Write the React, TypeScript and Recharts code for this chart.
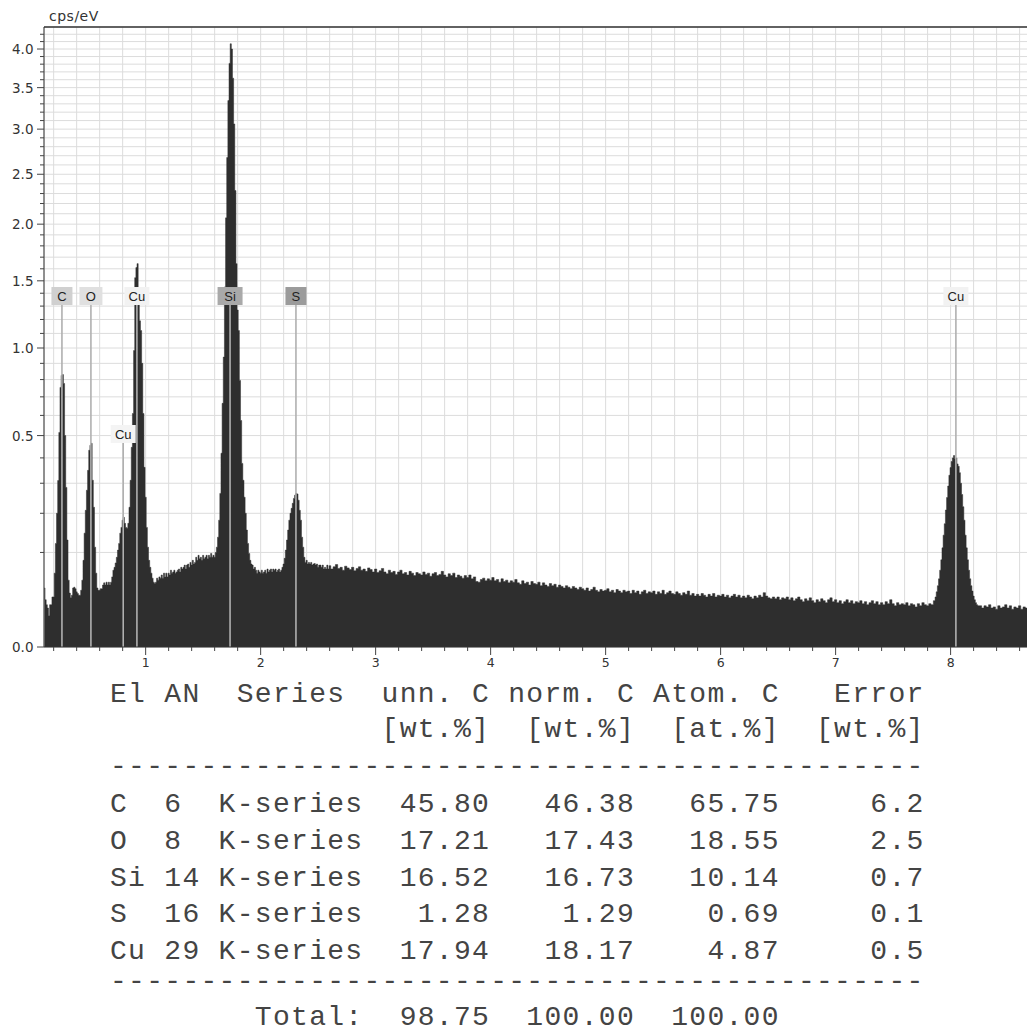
import {
  ComposedChart, Area, XAxis, YAxis, CartesianGrid, ReferenceLine, ReferenceDot,
} from "recharts";

// EDX spectrum, cps/eV.
// 0.12 - 2.59 keV, 10 eV channels (C, O, Cu L, Si, S peaks)
const LOW_KEV_COUNTS = [
  0.039, 0.025, 0.020, 0.017, 0.011, 0.020, 0.020, 0.028,
  0.028, 0.061, 0.12, 0.20, 0.31, 0.515, 0.754, 0.825, 0.83, 0.777, 0.50, 0.285,
  0.128, 0.050, 0.0325, 0.027, 0.030, 0.039, 0.040, 0.038, 0.034, 0.032,
  0.030, 0.030, 0.036, 0.050, 0.084, 0.145, 0.209, 0.275, 0.349, 0.433,
  0.455, 0.464, 0.311, 0.2185, 0.1115, 0.061, 0.039, 0.036, 0.036, 0.038,
  0.038, 0.043, 0.046, 0.043, 0.047, 0.043, 0.047, 0.043, 0.047, 0.055,
  0.066, 0.071, 0.079, 0.090, 0.105, 0.12, 0.145, 0.16, 0.18, 0.188,
  0.171, 0.16, 0.158, 0.171, 0.2185, 0.311, 0.446, 0.61, 0.983, 1.526,
  1.61, 1.644, 1.42, 1.19, 1.12, 0.90, 0.61, 0.361, 0.251, 0.16,
  0.1115, 0.084, 0.071, 0.061, 0.053, 0.047, 0.045, 0.047, 0.053, 0.050,
  0.055, 0.053, 0.058, 0.053, 0.061, 0.055, 0.061, 0.055, 0.061, 0.058,
  0.066, 0.061, 0.063, 0.066, 0.061, 0.063, 0.066, 0.068, 0.063, 0.071,
  0.068, 0.071, 0.075, 0.068, 0.075, 0.077, 0.071, 0.080, 0.075, 0.084,
  0.077, 0.080, 0.090, 0.084, 0.094, 0.087, 0.090, 0.084, 0.094, 0.087,
  0.090, 0.094, 0.087, 0.094, 0.090, 0.098, 0.090, 0.094, 0.090, 0.10,
  0.1115, 0.135, 0.18, 0.264, 0.42, 0.664, 0.94, 1.45, 2.06, 2.68,
  3.34, 3.81, 4.07, 4.0, 3.62, 3.06, 2.33, 1.644, 1.27, 1.12,
  0.795, 0.574, 0.377, 0.311, 0.251, 0.20, 0.153, 0.12, 0.098, 0.084,
  0.077, 0.075, 0.068, 0.071, 0.066, 0.061, 0.066, 0.063, 0.061, 0.066,
  0.061, 0.063, 0.066, 0.061, 0.068, 0.063, 0.066, 0.068, 0.063, 0.068,
  0.066, 0.068, 0.063, 0.066, 0.068, 0.063, 0.066, 0.071, 0.077, 0.088,
  0.105, 0.128, 0.153, 0.18, 0.20, 0.215, 0.231, 0.247, 0.258, 0.264,
  0.262, 0.241, 0.209, 0.18, 0.135, 0.1115, 0.090, 0.080, 0.084, 0.077,
  0.080, 0.077, 0.080, 0.075, 0.077, 0.078, 0.075, 0.077, 0.071, 0.075,
  0.075, 0.071, 0.075, 0.068, 0.071, 0.068, 0.075, 0.068,
];

// 2.60 - 7.84 keV, 20 eV steps (bremsstrahlung background)
const BACKGROUND_COUNTS = [
  0.074, 0.068, 0.072, 0.076, 0.069, 0.071, 0.066, 0.073, 0.070, 0.067,
  0.071, 0.065, 0.069, 0.072, 0.066, 0.068, 0.064, 0.070, 0.067, 0.063,
  0.068, 0.062, 0.065, 0.069, 0.063, 0.060, 0.066, 0.062, 0.064, 0.059,
  0.063, 0.066, 0.060, 0.062, 0.058, 0.064, 0.061, 0.057, 0.062, 0.060,
  0.058, 0.063, 0.059, 0.061, 0.056, 0.060, 0.062, 0.057, 0.059, 0.064,
  0.058, 0.055, 0.060, 0.057, 0.061, 0.054, 0.058, 0.056, 0.053, 0.057,
  0.054, 0.058, 0.052, 0.055, 0.048, 0.047, 0.051, 0.053, 0.049, 0.052,
  0.050, 0.054, 0.049, 0.051, 0.047, 0.052, 0.048, 0.050, 0.046, 0.049,
  0.047, 0.051, 0.046, 0.044, 0.049, 0.045, 0.047, 0.043, 0.048, 0.045,
  0.044, 0.047, 0.042, 0.046, 0.043, 0.041, 0.045, 0.042, 0.044, 0.040,
  0.043, 0.041, 0.039, 0.042, 0.040, 0.038, 0.041, 0.039, 0.037, 0.040,
  0.038, 0.036, 0.039, 0.035, 0.037, 0.040, 0.036, 0.034, 0.037, 0.035,
  0.036, 0.038, 0.034, 0.036, 0.033, 0.037, 0.035, 0.033, 0.036, 0.034,
  0.035, 0.032, 0.036, 0.033, 0.035, 0.031, 0.034, 0.036, 0.032, 0.034,
  0.033, 0.035, 0.031, 0.034, 0.032, 0.036, 0.031, 0.033, 0.035, 0.032,
  0.031, 0.034, 0.032, 0.030, 0.033, 0.031, 0.035, 0.030, 0.032, 0.029,
  0.031, 0.029, 0.032, 0.030, 0.028, 0.031, 0.029, 0.032, 0.028, 0.030,
  0.029, 0.031, 0.028, 0.030, 0.027, 0.029, 0.031, 0.028, 0.030, 0.027,
  0.029, 0.027, 0.030, 0.028, 0.026, 0.029, 0.027, 0.030, 0.028, 0.033,
  0.029, 0.027, 0.026, 0.028, 0.026, 0.028, 0.025, 0.027, 0.026, 0.028,
  0.025, 0.027, 0.024, 0.026, 0.028, 0.025, 0.023, 0.026, 0.024, 0.027,
  0.024, 0.022, 0.025, 0.023, 0.026, 0.024, 0.022, 0.025, 0.027, 0.023,
  0.025, 0.022, 0.024, 0.021, 0.023, 0.025, 0.022, 0.024, 0.021, 0.023,
  0.022, 0.024, 0.021, 0.023, 0.020, 0.022, 0.024, 0.021, 0.023, 0.020,
  0.022, 0.020, 0.023, 0.021, 0.025, 0.021, 0.019, 0.022, 0.020, 0.021,
  0.020, 0.022, 0.019, 0.021, 0.020, 0.018, 0.021, 0.019, 0.022, 0.020,
  0.019, 0.021, 0.020,
];

// 7.86 - 8.24 keV, 10 eV channels (Cu K alpha)
const CU_K_COUNTS = [
  0.024, 0.028, 0.034, 0.042, 0.052, 0.066, 0.085, 0.11, 0.14, 0.17,
  0.21, 0.25, 0.29, 0.33, 0.36, 0.385, 0.40, 0.41, 0.395, 0.40,
  0.375, 0.365, 0.34, 0.30, 0.26, 0.22, 0.18, 0.14, 0.11, 0.085,
  0.066, 0.052, 0.042, 0.035, 0.029, 0.025, 0.022, 0.020, 0.019,
];

// 8.26 - 8.76 keV, 20 eV steps
const TAIL_COUNTS = [
  0.019, 0.017, 0.019, 0.018, 0.020, 0.017, 0.018, 0.016, 0.019, 0.017,
  0.018, 0.020, 0.017, 0.019, 0.016, 0.018, 0.017, 0.019, 0.016, 0.018,
  0.017, 0.019, 0.016, 0.018, 0.017, 0.018,
];

const SEGMENTS = [
  { start: 0.12, step: 0.01, counts: LOW_KEV_COUNTS },
  { start: 2.6, step: 0.02, counts: BACKGROUND_COUNTS },
  { start: 7.86, step: 0.01, counts: CU_K_COUNTS },
  { start: 8.26, step: 0.02, counts: TAIL_COUNTS },
];

// element markers: line energy, tag height (cps/eV), tag box colour
const PEAK_TAGS = [
  { el: "C", keV: 0.272, at: 1.378, w: 21, fill: "#d0d0d0" },
  { el: "O", keV: 0.524, at: 1.378, w: 23, fill: "#e0e0e0" },
  { el: "Cu", keV: 0.924, at: 1.378, w: 25, fill: "#f2f2f2" },
  { el: "Si", keV: 1.734, at: 1.378, w: 25, fill: "#a9a9a9" },
  { el: "S", keV: 2.307, at: 1.378, w: 21, fill: "#9b9b9b" },
  { el: "Cu", keV: 8.046, at: 1.378, w: 25, fill: "#f2f2f2" },
  { el: "Cu", keV: 0.805, at: 0.5075, w: 25, fill: "#f4f4f4" },
];

const X_MAJOR = [1, 2, 3, 4, 5, 6, 7, 8];
const Y_MAJOR = [0, 0.5, 1.0, 1.5, 2.0, 2.5, 3.0, 3.5, 4.0];

// quantification table
const ELEMENTS = ["C", "O", "Si", "S", "Cu"];
const ATOMIC_NO = [6, 8, 14, 16, 29];
const UNN_C = ["45.80", "17.21", "16.52", "1.28", "17.94"];
const NORM_C = ["46.38", "17.43", "16.73", "1.29", "18.17"];
const ATOM_C = ["65.75", "18.55", "10.14", "0.69", "4.87"];
const ERROR = ["6.2", "2.5", "0.7", "0.1", "0.5"];
const TOTALS = ["98.75", "100.00", "100.00"];

const spectrum = SEGMENTS.flatMap((s) =>
  s.counts.map((c, i) => ({ keV: +(s.start + i * s.step).toFixed(3), cps: c }))
);

const xTicks = Array.from({ length: 43 }, (_, i) => +(0.2 * (i + 1)).toFixed(1));
const yTicks = Array.from({ length: 43 }, (_, i) => +(0.1 * i).toFixed(1));

const AXIS_FONT = "'DejaVu Sans', Verdana, sans-serif";

function XTick(props: any) {
  const { x, y, payload } = props;
  const v = payload.value;
  const major = X_MAJOR.some((m) => Math.abs(m - v) < 1e-6);
  return (
    <g>
      <line x1={x} x2={x} y1={y} y2={y + (major ? 8 : 4)} stroke="#444" />
      {major && (
        <text x={x} y={y + 20} textAnchor="middle" fontSize={12.5} fontFamily={AXIS_FONT} fill="#333">
          {Math.round(v)}
        </text>
      )}
    </g>
  );
}

function YTick(props: any) {
  const { x, y, payload } = props;
  const v = payload.value;
  const major = Y_MAJOR.some((m) => Math.abs(m - v) < 1e-6);
  return (
    <g>
      <line x1={x - (major ? 7 : 4)} x2={x} y1={y} y2={y} stroke="#444" />
      {major && (
        <text x={x - 10.5} y={y + 5} textAnchor="end" fontSize={13.5} fontFamily={AXIS_FONT} fill="#333">
          {v.toFixed(1)}
        </text>
      )}
    </g>
  );
}

function PeakTag(props: any) {
  const { cx, cy, label, w, fill } = props;
  return (
    <g>
      <rect x={cx - w / 2} y={cy - 9} width={w} height={18} fill={fill} />
      <text x={cx} y={cy + 5} textAnchor="middle" fontSize={13} fontFamily="'Liberation Sans', Arial, sans-serif" fill="#222">
        {label}
      </text>
    </g>
  );
}

const MONO = "'Courier New', 'Liberation Mono', monospace";

function ResultTable() {
  const rows = ELEMENTS.map(
    (el, i) =>
      el.padEnd(3) + String(ATOMIC_NO[i]).padEnd(3) + "K-series" +
      UNN_C[i].padStart(7) + NORM_C[i].padStart(8) + ATOM_C[i].padStart(8) + ERROR[i].padStart(8)
  );
  const dashes = "-".repeat(45);
  const lines: [number, string][] = [
    [702, "El AN  Series  unn. C norm. C Atom. C   Error"],
    [737, "               [wt.%]  [wt.%]  [at.%]  [wt.%]"],
    [774, dashes],
    ...rows.map((r, i) => [812 + i * 36.8, r] as [number, string]),
    [989, dashes],
    [1025, "        Total:" + TOTALS[0].padStart(7) + TOTALS[1].padStart(8) + TOTALS[2].padStart(8)],
  ];
  return (
    <svg width={1027} height={1032} style={{ position: "absolute", left: 0, top: 0, pointerEvents: "none" }}>
      {lines.map(([y, t], i) => (
        <text key={i} x={110} y={y} xmlSpace="preserve" style={{ whiteSpace: "pre" }}
          fontFamily={MONO} fontSize={28} letterSpacing={1.3} fill="#444">
          {t}
        </text>
      ))}
    </svg>
  );
}

export default function App() {
  return (
    <div style={{ position: "absolute", left: 0, top: 0, width: 1027, height: 1032, overflow: "hidden", background: "#fff" }}>
      <div style={{ position: "absolute", left: 49, top: 8, fontFamily: AXIS_FONT, fontSize: 14, letterSpacing: 0.5, color: "#333" }}>
        cps/eV
      </div>
      <ComposedChart width={1038} height={672} data={spectrum} margin={{ top: 27, right: 0, bottom: 0, left: 0 }}>
        <CartesianGrid stroke="#dcdcdc" />
        <XAxis
          dataKey="keV" type="number" domain={[0.116, 8.76]} allowDataOverflow
          ticks={xTicks} interval={0} tickSize={0} tickMargin={0} height={25}
          tick={<XTick />} axisLine={{ stroke: "#333" }}
        />
        <YAxis
          type="number" scale="sqrt" domain={[0, 4.3]} allowDataOverflow
          ticks={yTicks} interval={0} tickSize={0} tickMargin={0} width={44}
          tick={<YTick />} axisLine={{ stroke: "#333" }}
        />
        <Area
          dataKey="cps" type="step" fill="#2e2e2e" fillOpacity={1}
          stroke="#2e2e2e" strokeWidth={0.5} isAnimationActive={false} dot={false} activeDot={false}
        />
        <ReferenceLine y={4.3} stroke="#333" strokeWidth={1.5} />
        {PEAK_TAGS.map((p, i) => (
          <ReferenceLine key={"l" + i} segment={[{ x: p.keV, y: 0 }, { x: p.keV, y: p.at }]} stroke="#b0b0b0" strokeWidth={1.6} />
        ))}
        {PEAK_TAGS.map((p, i) => (
          <ReferenceDot key={"t" + i} x={p.keV} y={p.at} r={1}
            shape={(sp: any) => <PeakTag {...sp} label={p.el} w={p.w} fill={p.fill} />} />
        ))}
      </ComposedChart>
      <ResultTable />
    </div>
  );
}
